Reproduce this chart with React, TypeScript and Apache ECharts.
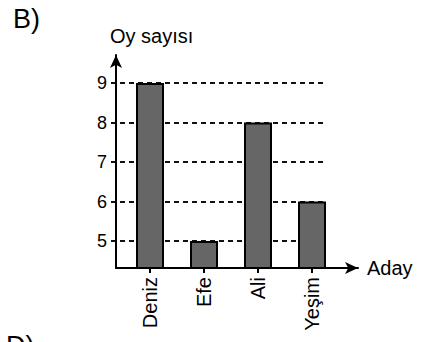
import React, { useEffect, useRef } from "react";
import * as echarts from "echarts";

const categories = ["Deniz", "Efe", "Ali", "Yeşim"];
const votes = [9, 5, 8, 6];
const yMin = 4.32;
const yMax = 9;
const xAxisName = "Aday";
const yAxisName = "Oy sayısı";
const panelLabel = "B)";
const nextPanelLabel = "D)";

const FONT = "'Liberation Sans', Arial, Helvetica, sans-serif";

export default function App() {
  const ref = useRef<HTMLDivElement>(null);
  useEffect(() => {
    if (!ref.current) return;
    const chart = echarts.init(ref.current, null, { renderer: "svg" });
    const hidden = { show: false };
    chart.setOption({
      animation: false,
      backgroundColor: "#fff",
      textStyle: { fontFamily: FONT, color: "#000" },
      graphic: [
        { type: "text", left: 13, top: 5, style: { text: panelLabel, font: `27px ${FONT}`, fill: "#000" } },
        { type: "text", left: 6, top: 332, style: { text: nextPanelLabel, font: `27px ${FONT}`, fill: "#000" } },
      ],
      grid: [
        { left: 116, top: 55, width: 242, height: 213 },
        { left: 111, top: 83, width: 215, height: 185 },
        { left: 123, top: 83, width: 216, height: 185 },
      ],
      xAxis: [
        {
          gridIndex: 0, type: "value", min: 0, max: 1,
          axisLine: { show: true, onZero: false, symbol: ["none", "arrow"], symbolSize: [9, 13], lineStyle: { color: "#000", width: 2 } },
          axisTick: hidden, axisLabel: hidden, splitLine: hidden,
          name: xAxisName, nameLocation: "end", nameGap: 9,
          nameTextStyle: { fontSize: 20, color: "#000", fontFamily: FONT },
        },
        { gridIndex: 1, type: "value", min: 0, max: 1, show: false },
        {
          gridIndex: 2, type: "category", data: categories, boundaryGap: true,
          axisLine: { show: false },
          axisTick: { show: true, alignWithLabel: true, length: 5, lineStyle: { color: "#000", width: 2 } },
          axisLabel: { rotate: 90, fontSize: 20, color: "#000", margin: 9, fontFamily: FONT },
          splitLine: hidden,
        },
      ],
      yAxis: [
        {
          gridIndex: 0, type: "value", min: 0, max: 1,
          axisLine: { show: true, onZero: false, symbol: ["none", "arrow"], symbolSize: [9, 13], lineStyle: { color: "#000", width: 2 } },
          axisTick: hidden, axisLabel: hidden, splitLine: hidden,
          name: yAxisName, nameLocation: "end", nameGap: 9,
          nameTextStyle: { fontSize: 20, color: "#000", align: "left", padding: [0, 0, 0, -6], fontFamily: FONT },
        },
        {
          gridIndex: 1, type: "value", min: yMin, max: yMax, minInterval: 1, maxInterval: 1,
          axisLine: hidden, axisTick: hidden,
          axisLabel: {
            show: true, fontSize: 18, color: "#000", margin: 4, fontFamily: FONT,
            formatter: (v: number) => (Number.isInteger(v) ? String(v) : ""),
          },
          splitLine: { show: true, showMinLine: false, lineStyle: { color: "#111", width: 2, type: [5, 4] } },
        },
        { gridIndex: 2, type: "value", min: yMin, max: yMax, show: false },
      ],
      series: [
        {
          type: "bar",
          xAxisIndex: 2,
          yAxisIndex: 2,
          data: votes,
          barWidth: 28,
          itemStyle: { color: "#666666", borderColor: "#000", borderWidth: 2 },
          z: 3,
        },
      ],
    });
    return () => chart.dispose();
  }, []);
  return <div ref={ref} style={{ position: "fixed", left: 0, top: 0, width: 421, height: 342 }} />;
}
